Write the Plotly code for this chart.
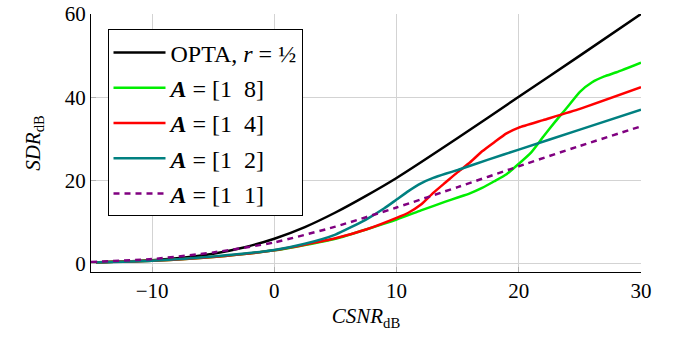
import plotly.graph_objects as go

# ---- data ----
opta_x = [-15, -12.5, -10, -7.5, -5, -2.5, 0, 2.5, 5, 7.5, 10, 15, 20, 25, 30]
opta_y = [0.3, 0.5, 0.8, 1.4, 2.4, 3.9, 6.0, 8.8, 12.3, 16.3, 20.6, 30.2, 40.1, 50.0, 60.0]

a18_x = [-15, -10, -5, 0, 5, 10, 12, 14, 15, 16, 17, 18, 19, 20, 21, 22, 23, 24, 25, 26, 27, 28, 30]
a18_y = [0.3, 0.7, 1.6, 3.2, 6.0, 10.6, 12.8, 14.9, 15.9, 16.9, 18.2, 19.8, 21.5, 24.0, 26.7, 30.5, 34.2, 37.7, 41.3, 43.6, 45.0, 46.0, 48.3]

a14_x = [-15, -10, -5, 0, 5, 7.5, 10, 11, 12, 13, 14, 15, 16, 17, 18, 19, 20, 22, 25, 30]
a14_y = [0.3, 0.7, 1.6, 3.2, 6.1, 8.2, 11.0, 12.3, 14.2, 17.0, 19.5, 22.0, 24.3, 27.0, 29.2, 31.3, 32.7, 34.5, 37.2, 42.4]

a12_x = [-15, -10, -5, 0, 2.5, 5, 7.5, 9, 10, 11, 12, 13, 14, 15, 17.5, 20, 25, 30]
a12_y = [0.3, 0.7, 1.7, 3.3, 4.8, 7.0, 10.6, 13.3, 15.4, 17.5, 19.3, 20.6, 21.6, 22.5, 25.0, 27.4, 32.2, 37.0]

a11_x = [-15, -10, -5, 0, 5, 10, 15, 20, 25, 30]
a11_y = [0.4, 1.1, 2.7, 5.1, 8.9, 13.5, 18.4, 23.4, 28.3, 33.0]

x_ticks = [-10, 0, 10, 20, 30]
x_tick_text = ["−10", "0", "10", "20", "30"]
y_ticks = [0, 20, 40, 60]

FONT = "Liberation Serif, DejaVu Serif, Times New Roman, serif"

series = [
    ("OPTA, <i>r</i> = ½", opta_x, opta_y, "#000000", "solid"),
    ("<b><i>A</i></b> = [1  8]", a18_x, a18_y, "#00ee00", "solid"),
    ("<b><i>A</i></b> = [1  4]", a14_x, a14_y, "#ff0000", "solid"),
    ("<b><i>A</i></b> = [1  2]", a12_x, a12_y, "#008080", "solid"),
    ("<b><i>A</i></b> = [1  1]", a11_x, a11_y, "#800080", "6px,5px"),
]

fig = go.Figure()
for i, (name, xs, ys, col, dash) in enumerate(series):
    fig.add_trace(go.Scatter(
        x=xs, y=ys, mode="lines", name=name, legendgroup=f"g{i}",
        line=dict(color=col, width=2.5, dash=dash, shape="spline", smoothing=0.5),
    ))

fig.update_layout(
    width=676, height=349,
    margin=dict(l=91, r=35, t=14, b=77, autoexpand=False),
    paper_bgcolor="white", plot_bgcolor="white",
    font=dict(family=FONT, size=21, color="black"),
    showlegend=True,
    legend=dict(
        x=0.03, y=0.94, xanchor="left", yanchor="top",
        bgcolor="white", bordercolor="black", borderwidth=1,
        font=dict(family=FONT, size=24), tracegroupgap=1, itemwidth=52,
    ),
    xaxis=dict(
        range=[-15, 30], tickvals=x_ticks, ticktext=x_tick_text,
        showgrid=True, gridcolor="#d3d3d3", gridwidth=1,
        showline=True, linecolor="black", linewidth=1.2,
        ticks="inside", ticklen=5, tickcolor="#b0b0b0",
        zeroline=False, automargin=False,
        title=dict(text="<i>CSNR</i><sub>dB</sub>", font=dict(size=21), standoff=6),
    ),
    yaxis=dict(
        range=[-2, 60], tickvals=y_ticks,
        showgrid=True, gridcolor="#d3d3d3", gridwidth=1,
        showline=True, linecolor="black", linewidth=1.2,
        ticks="inside", ticklen=5, tickcolor="#b0b0b0",
        zeroline=False, automargin=False, ticklabeloverflow="allow",
        title=dict(text="<i>SDR</i><sub>dB</sub>", font=dict(size=21), standoff=18),
    ),
)

fig.write_html("out.html", config={"displayModeBar": False},
               post_script="document.body.style.margin='0';")
